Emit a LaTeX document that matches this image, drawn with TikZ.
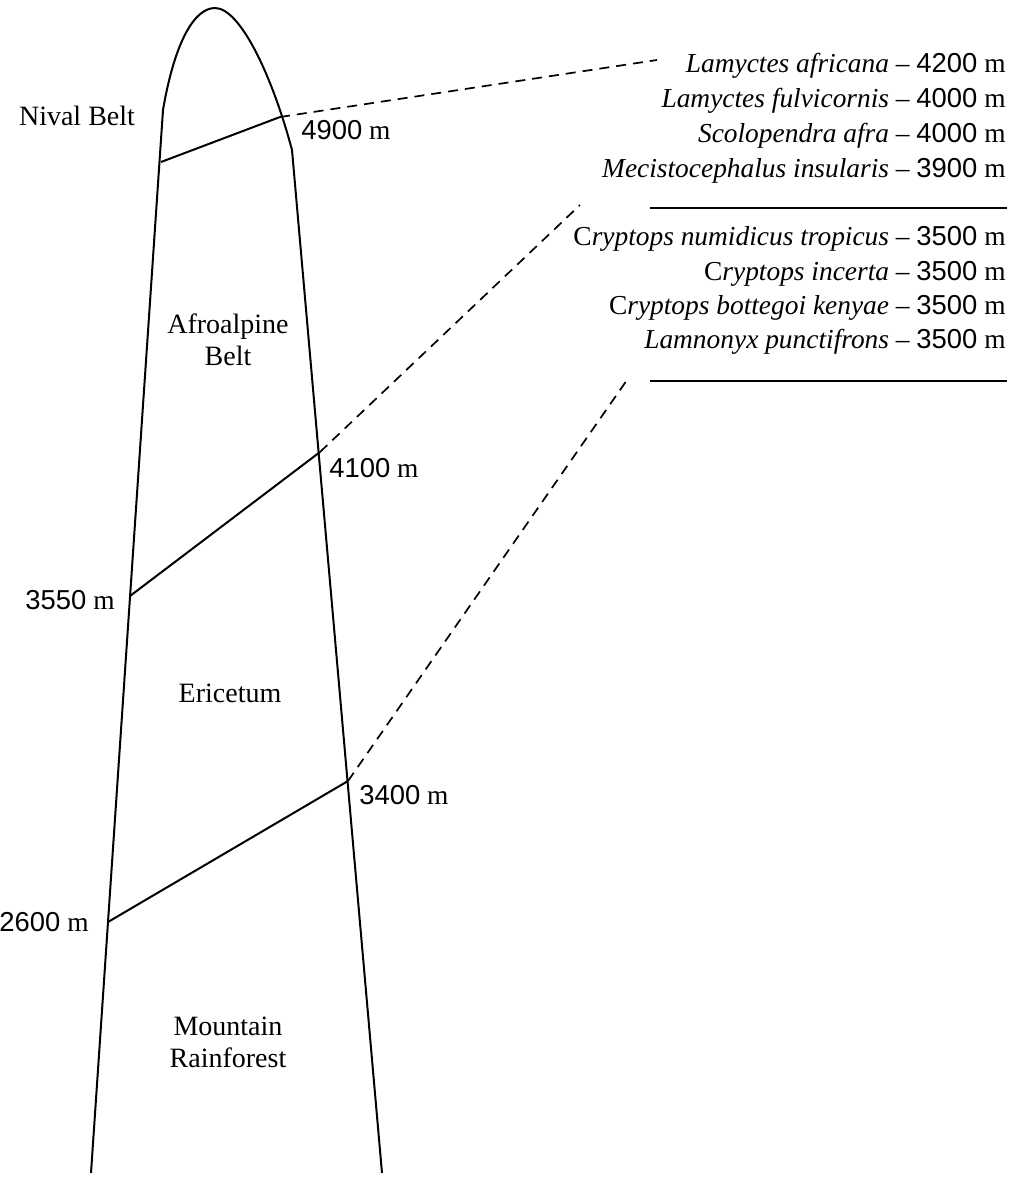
\documentclass[tikz,border=0pt]{standalone}
\usepackage{fontspec}
\setmainfont{Liberation Serif}
\newfontfamily\numfont{Liberation Sans}
\newcommand{\elev}[1]{{\numfont #1} m}
\usetikzlibrary{positioning}

\begin{document}
\begin{tikzpicture}[x=0.5pt, y=-0.5pt,
    font=\fontsize{13.7}{16}\selectfont,
    outline/.style={line width=1pt},
    belt/.style={align=center, font=\fontsize{14}{16}\selectfont},
    guide/.style={line width=0.85pt, dash pattern=on 5pt off 3.5pt},
    species/.style={anchor=base east, inner sep=0pt}]
    \useasboundingbox (0,0) rectangle (1022,1185);

    % mountain outline
    \draw[outline] (91,1173) -- (163,110)
        .. controls (175,40) and (195,8) .. (215,8)
        .. controls (240,8) and (272,75) .. (292,150) -- (382,1173);

    % belt boundaries
    \coordinate (n1) at (161,162);
    \coordinate (n2) at (280,117);
    \coordinate (a1) at (130,596);
    \coordinate (a2) at (320,452);
    \coordinate (e1) at (108,922);
    \coordinate (e2) at (348,781);
    \draw[outline] (n1) -- (n2);
    \draw[outline] (a1) -- (a2);
    \draw[outline] (e1) -- (e2);

    % belt names
    \node[belt] (nival) at (77,116) {Nival Belt};
    \node[belt] (afro) at (228,340) {Afroalpine\\Belt};
    \node[belt] (eric) at (230,693) {Ericetum};
    \node[belt] (rain) at (228,1042) {Mountain\\Rainforest};

    % elevations
    \node[anchor=west, inner sep=0pt] (h4900) at (301,130) {\elev{4900}};
    \node[anchor=west, inner sep=0pt] (h4100) at (329,468) {\elev{4100}};
    \node[anchor=east, inner sep=0pt] (h3550) at (115,600) {\elev{3550}};
    \node[anchor=west, inner sep=0pt] (h3400) at (359,795) {\elev{3400}};
    \node[anchor=east, inner sep=0pt] (h2600) at (89,922) {\elev{2600}};

    % species lists
    \node[species] (sp1) at (1006,72) {\textit{Lamyctes africana} -- \elev{4200}};
    \node[species] (sp2) at (1006,107) {\textit{Lamyctes fulvicornis} -- \elev{4000}};
    \node[species] (sp3) at (1006,142) {\textit{Scolopendra afra} -- \elev{4000}};
    \node[species] (sp4) at (1006,177) {\textit{Mecistocephalus insularis} -- \elev{3900}};
    \draw[outline] (650,208) -- (1007,208);
    \node[species] (sp5) at (1006,245) {C\textit{ryptops numidicus tropicus} -- \elev{3500}};
    \node[species] (sp6) at (1006,280) {C\textit{ryptops incerta} -- \elev{3500}};
    \node[species] (sp7) at (1006,314) {C\textit{ryptops bottegoi kenyae} -- \elev{3500}};
    \node[species] (sp8) at (1006,348) {\textit{Lamnonyx punctifrons} -- \elev{3500}};
    \draw[outline] (650,381) -- (1007,381);

    % dashed guides
    \coordinate (g1) at (657,60);
    \coordinate (g2) at (580,205);
    \coordinate (g3) at (627,380);
    \draw[guide] (n2) -- (g1);
    \draw[guide] (a2) -- (g2);
    \draw[guide] (e2) -- (g3);
\end{tikzpicture}
\end{document}
